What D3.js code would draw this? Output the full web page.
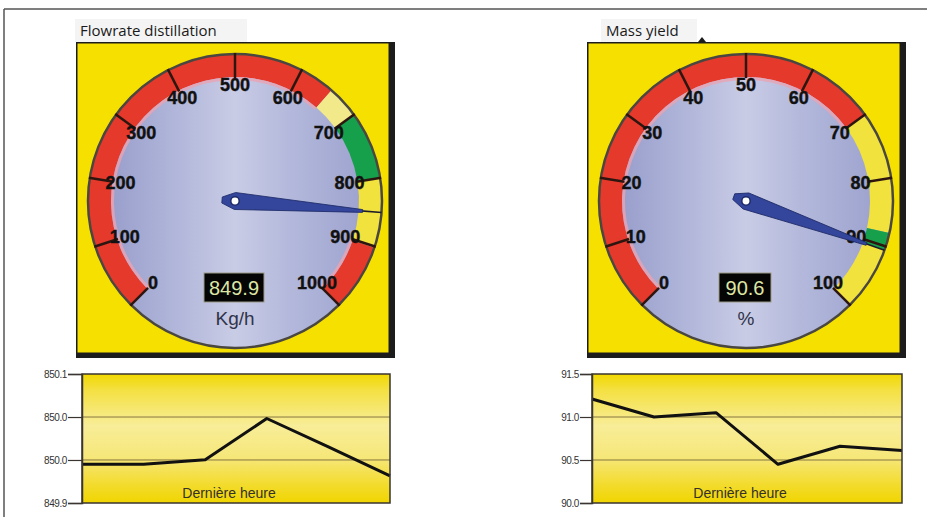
<!DOCTYPE html>
<html>
<head>
<meta charset="utf-8">
<script src="https://cdn.jsdelivr.net/npm/d3@7"></script>
<style>
  html, body { margin: 0; padding: 0; background: #ffffff; }
  svg { display: block; }
</style>
</head>
<body>
<svg id="board" width="927" height="517"></svg>
<script>
// ---- Data ---------------------------------------------------------------
const panelTitles = ["Flowrate distillation", "Mass yield"];
const gaugeUnits = ["Kg/h", "%"];
const gaugeValues = [849.9, 90.6];
const gaugeLabels = ["849.9", "90.6"];

const flowScaleTicks = [0, 100, 200, 300, 400, 500, 600, 700, 800, 900, 1000];
const massScaleTicks = [0, 10, 20, 30, 40, 50, 60, 70, 80, 90, 100];

// zone boundaries along each dial and the kind of zone between them
const flowZoneStops = [0, 652, 700, 800, 902, 1000];
const flowZoneKinds = ["alarm", "pale", "ok", "warn", "alarm"];
const massZoneStops = [0, 70, 88, 90.6, 100];
const massZoneKinds = ["alarm", "warn", "ok", "warn"];

// last-hour history behind each trend
const historySteps = [0, 1, 2, 3, 4, 5];
const flowHistory = [849.960, 849.960, 849.967, 850.031, 849.987, 849.942];
const massHistory = [91.21, 91.00, 91.05, 90.45, 90.66, 90.61];

const flowAxisTicks = [849.9, 849.9667, 850.0333, 850.1];
const flowAxisLabels = ["849.9", "850.0", "850.0", "850.1"];
const massAxisTicks = [90.0, 90.5, 91.0, 91.5];
const massAxisLabels = ["90.0", "90.5", "91.0", "91.5"];
const trendCaption = "Dernière heure";

// ---- Styles -------------------------------------------------------------
const zoneColor = { alarm: "#e5392c", warn: "#f1e23e", pale: "#f2e98a", ok: "#17a04b" };
const PANEL_YELLOW = "#f5e000";

const svg = d3.select("#board");
const defs = svg.append("defs");

// dial face: lighter vertical band through the middle
const face = defs.append("linearGradient").attr("id", "faceGrad")
  .attr("x1", "0%").attr("x2", "100%").attr("y1", "0%").attr("y2", "0%");
[["0%", "#9097c6"], ["30%", "#b1b6da"], ["50%", "#c9cce5"], ["70%", "#b2b7db"], ["100%", "#989ecb"]]
  .forEach(([o, c]) => face.append("stop").attr("offset", o).attr("stop-color", c));

// trend background: saturated edges, pale middle
const trendBg = defs.append("linearGradient").attr("id", "trendGrad")
  .attr("x1", "0%").attr("x2", "0%").attr("y1", "0%").attr("y2", "100%");
[["0%", "#f1d800"], ["12%", "#f4e040"], ["40%", "#f8ed98"], ["65%", "#f6e779"], ["85%", "#f3dc30"], ["100%", "#f0d500"]]
  .forEach(([o, c]) => trendBg.append("stop").attr("offset", o).attr("stop-color", c));

// ---- Page frame ---------------------------------------------------------
svg.append("line").attr("x1", 4).attr("x2", 927).attr("y1", 9).attr("y2", 9)
  .attr("stroke", "#555").attr("stroke-width", 1.5);
svg.append("line").attr("x1", 4).attr("x2", 4).attr("y1", 9).attr("y2", 517)
  .attr("stroke", "#555").attr("stroke-width", 1.5);

// ---- Gauges -------------------------------------------------------------
const panels = [
  { x: 76, titleX: 80, tabW: 172, ticks: flowScaleTicks, stops: flowZoneStops, kinds: flowZoneKinds },
  { x: 587, titleX: 606, tabW: 96, ticks: massScaleTicks, stops: massZoneStops, kinds: massZoneKinds }
];

const R_OUT = 147, R_IN = 124, R_LABEL = 116;

panels.forEach((p, i) => {
  const g = svg.append("g");

  // title with its light tab
  g.append("rect").attr("x", p.titleX - 5).attr("y", 19).attr("width", p.tabW).attr("height", 23)
    .attr("fill", "#f4f4f4");
  g.append("text").attr("x", p.titleX).attr("y", 36).text(panelTitles[i])
    .attr("font-family", "'Open Sans', sans-serif").attr("font-size", 15).attr("fill", "#1a1a1a");

  // bevelled yellow box
  g.append("rect").attr("x", p.x).attr("y", 42).attr("width", 319).attr("height", 316).attr("fill", "#1c1c1c");
  g.append("rect").attr("x", p.x + 1.5).attr("y", 43.5).attr("width", 311).attr("height", 309).attr("fill", PANEL_YELLOW);

  if (i === 1) {
    g.append("path").attr("d", `M${p.x + 111},42 l4,-5 l4,5 Z`).attr("fill", "#1c1c1c");
  }

  const cx = p.x + 159, cy = 201;
  const dial = g.append("g").attr("transform", `translate(${cx},${cy})`);
  const ang = d3.scaleLinear().domain([p.ticks[0], p.ticks[p.ticks.length - 1]])
    .range([-135 * Math.PI / 180, 135 * Math.PI / 180]);

  // face
  dial.append("circle").attr("r", R_OUT).attr("fill", "url(#faceGrad)");

  // coloured zones
  const arc = d3.arc().innerRadius(R_IN).outerRadius(R_OUT);
  const rimGlow = d3.arc().innerRadius(R_IN - 3).outerRadius(R_IN);
  p.kinds.forEach((k, j) => {
    const span = { startAngle: ang(p.stops[j]), endAngle: ang(p.stops[j + 1]) };
    dial.append("path").attr("d", arc(span)).attr("fill", zoneColor[k]);
    if (k === "alarm") {
      dial.append("path").attr("d", rimGlow(span)).attr("fill", "#e9a4b4").attr("opacity", 0.8);
    }
  });

  // rim
  dial.append("circle").attr("r", R_OUT).attr("fill", "none")
    .attr("stroke", "#4a4740").attr("stroke-width", 2.5);

  // major ticks across the band
  dial.selectAll("line.tick").data(p.ticks).join("line")
    .attr("x1", d => Math.sin(ang(d)) * (R_IN - 1))
    .attr("y1", d => -Math.cos(ang(d)) * (R_IN - 1))
    .attr("x2", d => Math.sin(ang(d)) * (R_OUT + 1))
    .attr("y2", d => -Math.cos(ang(d)) * (R_OUT + 1))
    .attr("stroke", "#2e1610").attr("stroke-width", 2.5);

  // scale numbers
  dial.selectAll("text.num").data(p.ticks).join("text")
    .attr("x", d => Math.sin(ang(d)) * R_LABEL)
    .attr("y", d => -Math.cos(ang(d)) * R_LABEL)
    .attr("text-anchor", "middle").attr("dominant-baseline", "central")
    .attr("font-family", "'Liberation Sans', Arial, sans-serif")
    .attr("font-weight", "bold").attr("font-size", 18).attr("fill", "#111")
    .attr("stroke", "#111").attr("stroke-width", 0.4)
    .text(d => d);

  // readout
  const boxW = i === 0 ? 60 : 52;
  dial.append("rect").attr("x", -1 - boxW / 2).attr("y", 72).attr("width", boxW).attr("height", 29)
    .attr("fill", "#050505").attr("stroke", "#9a9a86").attr("stroke-width", 1);
  dial.append("text").attr("x", -1).attr("y", 87).attr("text-anchor", "middle")
    .attr("dominant-baseline", "central")
    .attr("font-family", "'Liberation Sans', Arial, sans-serif").attr("font-size", 20)
    .attr("fill", "#dfe6a4").text(gaugeLabels[i]);
  dial.append("text").attr("x", 0).attr("y", 117).attr("text-anchor", "middle")
    .attr("dominant-baseline", "central")
    .attr("font-family", "'Liberation Sans', Arial, sans-serif").attr("font-size", 19)
    .attr("fill", "#30344a").text(gaugeUnits[i]);

  // needle
  const deg = ang(gaugeValues[i]) * 180 / Math.PI;
  const needle = dial.append("g").attr("transform", `rotate(${deg})`);
  needle.append("line").attr("x1", 0).attr("x2", 0).attr("y1", -R_IN + 4).attr("y2", -R_OUT)
    .attr("stroke", "#1d1d2a").attr("stroke-width", 1.6);
  needle.append("path").attr("d", "M-1.4,-128 L1.4,-128 L8.5,0 L3,13 L-3,13 L-8.5,0 Z")
    .attr("fill", "#34459c").attr("stroke", "#1d2a66").attr("stroke-width", 0.8);
  dial.append("circle").attr("r", 4.2).attr("fill", "#ffffff")
    .attr("stroke", "#1d2a66").attr("stroke-width", 1.5);
});

// ---- Trends -------------------------------------------------------------
const trends = [
  { left: 82, right: 390, values: flowHistory, domain: [849.9, 850.1], ticks: flowAxisTicks, labels: flowAxisLabels, tickLen: 14 },
  { left: 592, right: 902, values: massHistory, domain: [90.0, 91.5], ticks: massAxisTicks, labels: massAxisLabels, tickLen: 12 }
];
const T_TOP = 374, T_BOTTOM = 503;

trends.forEach(t => {
  const g = svg.append("g");
  const x = d3.scaleLinear().domain(d3.extent(historySteps)).range([t.left, t.right]);
  const y = d3.scaleLinear().domain(t.domain).range([T_BOTTOM, T_TOP]);

  g.append("rect").attr("x", t.left).attr("y", T_TOP)
    .attr("width", t.right - t.left).attr("height", T_BOTTOM - T_TOP)
    .attr("fill", "url(#trendGrad)");

  // inner grid lines
  g.selectAll("line.grid").data(t.ticks.slice(1, -1)).join("line")
    .attr("x1", t.left).attr("x2", t.right)
    .attr("y1", d => y(d)).attr("y2", d => y(d))
    .attr("stroke", "#857640").attr("stroke-width", 1);

  // caption
  g.append("text").attr("x", (t.left + t.right) / 2 - 7).attr("y", 498)
    .attr("text-anchor", "middle")
    .attr("font-family", "'Liberation Sans', Arial, sans-serif").attr("font-size", 14)
    .attr("fill", "#35302a").text(trendCaption);

  // trace
  const line = d3.line().x((d, k) => x(historySteps[k])).y(d => y(d));
  g.append("path").attr("d", line(t.values)).attr("fill", "none")
    .attr("stroke", "#111").attr("stroke-width", 3).attr("stroke-linejoin", "round");

  // frame
  g.append("rect").attr("x", t.left).attr("y", T_TOP)
    .attr("width", t.right - t.left).attr("height", T_BOTTOM - T_TOP)
    .attr("fill", "none").attr("stroke", "#3a3530").attr("stroke-width", 1.5);

  // value axis
  const axis = d3.axisLeft(y).tickValues(t.ticks)
    .tickFormat((d, k) => t.labels[k]).tickSize(t.tickLen).tickPadding(1);
  const ag = g.append("g").attr("transform", `translate(${t.left},0)`).call(axis);
  ag.select(".domain").attr("stroke", "#3a3530").attr("stroke-width", 1.5);
  ag.selectAll(".tick line").attr("stroke", "#3a3530").attr("stroke-width", 1.2);
  ag.selectAll(".tick text").attr("font-family", "'Liberation Sans', Arial, sans-serif")
    .attr("font-size", 10).attr("fill", "#333").attr("letter-spacing", -0.4);
});
</script>
</body>
</html>
